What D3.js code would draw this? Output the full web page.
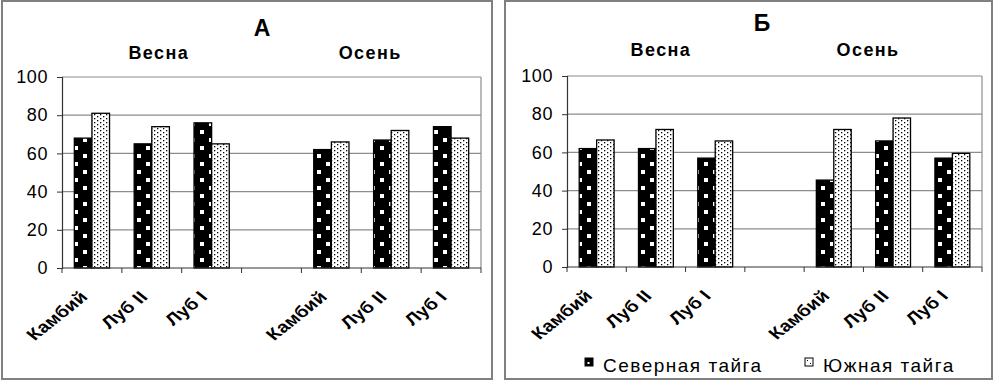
<!DOCTYPE html>
<html>
<head>
<meta charset="utf-8">
<script src="https://cdn.jsdelivr.net/npm/d3@7"></script>
<style>
  body { margin: 0; background: #fff; }
  svg text { font-family: "Liberation Sans", Arial, sans-serif; fill: #000; }
</style>
</head>
<body>
<div id="chart"></div>
<script>
const categories = ["Камбий", "Луб II", "Луб I", "", "Камбий", "Луб II", "Луб I"];
const seasons = ["Весна", "Осень"];
const seriesNames = ["Северная тайга", "Южная тайга"];
const yTicks = [0, 20, 40, 60, 80, 100];

// panel A
const northA = [68, 65, 76, null, 62, 67, 74];
const southA = [81, 74, 65, null, 66, 72, 68];
// panel B
const northB = [62, 62, 57, null, 45.5, 66, 57];
const southB = [66.5, 72, 66, null, 72, 78, 59.5];

const width = 994, height = 381;

const svg = d3.select("#chart").append("svg")
  .attr("width", width)
  .attr("height", height);

// patterns
const defs = svg.append("defs");
const pDark = defs.append("pattern")
  .attr("id", "pat-dark")
  .attr("patternUnits", "userSpaceOnUse")
  .attr("width", 18).attr("height", 16);
pDark.append("rect").attr("width", 18).attr("height", 16).attr("fill", "#000");
pDark.append("rect").attr("x", 2).attr("y", 2).attr("width", 4).attr("height", 4).attr("fill", "#fff");
pDark.append("rect").attr("x", 11).attr("y", 10).attr("width", 4).attr("height", 4).attr("fill", "#fff");

const pLight = defs.append("pattern")
  .attr("id", "pat-light")
  .attr("patternUnits", "userSpaceOnUse")
  .attr("width", 6).attr("height", 4);
pLight.append("rect").attr("width", 6).attr("height", 4).attr("fill", "#fff");
pLight.append("rect").attr("x", 1).attr("y", 0).attr("width", 1.3).attr("height", 1.3).attr("fill", "#000");
pLight.append("rect").attr("x", 4).attr("y", 2).attr("width", 1.3).attr("height", 1.3).attr("fill", "#000");

const fills = ["url(#pat-dark)", "url(#pat-light)"];

function drawPanel(opts, north, south) {
  const g = svg.append("g");

  // frame
  g.append("rect")
    .attr("x", opts.frame[0]).attr("y", opts.frame[1])
    .attr("width", opts.frame[2]).attr("height", opts.frame[3])
    .attr("fill", "#fff")
    .attr("stroke", "#808080")
    .attr("stroke-width", 2);

  const x = d3.scaleBand()
    .domain(d3.range(categories.length))
    .range([opts.left, opts.right])
    .padding(0);

  const xSub = d3.scaleBand()
    .domain([0, 1])
    .range([0, x.bandwidth()])
    .paddingInner(0)
    .paddingOuter(0.7);

  const y = d3.scaleLinear()
    .domain([0, 100])
    .range([opts.bottom, opts.top]);

  // grid
  g.append("g")
    .selectAll("line")
    .data(yTicks.filter(d => d > 0))
    .join("line")
    .attr("x1", opts.left).attr("x2", opts.right)
    .attr("y1", d => y(d)).attr("y2", d => y(d))
    .attr("stroke", "#8c8c8c")
    .attr("stroke-width", 1.2);

  // right border of plot area
  g.append("line")
    .attr("x1", opts.right).attr("x2", opts.right)
    .attr("y1", opts.top).attr("y2", opts.bottom)
    .attr("stroke", "#8c8c8c")
    .attr("stroke-width", 1.2);

  // bars
  const rows = [];
  categories.forEach((c, i) => {
    if (north[i] != null) rows.push({i, s: 0, v: north[i]});
    if (south[i] != null) rows.push({i, s: 1, v: south[i]});
  });

  g.append("g")
    .selectAll("rect")
    .data(rows)
    .join("rect")
    .attr("x", d => x(d.i) + xSub(d.s))
    .attr("y", d => y(d.v))
    .attr("width", xSub.bandwidth())
    .attr("height", d => y(0) - y(d.v))
    .attr("fill", d => fills[d.s])
    .attr("stroke", "#000")
    .attr("stroke-width", 1.3);

  // y axis
  const yAxis = g.append("g")
    .attr("transform", `translate(${opts.left},0)`)
    .call(d3.axisLeft(y).tickValues(yTicks).tickSize(5).tickPadding(9));
  yAxis.select(".domain").attr("stroke", "#333").attr("stroke-width", 1.2);
  yAxis.selectAll(".tick line").attr("stroke", "#333");
  yAxis.selectAll(".tick text")
    .attr("font-size", 18)
    .attr("letter-spacing", 0.6)
    .attr("fill", "#000");

  // x axis line and boundary ticks
  g.append("line")
    .attr("x1", opts.left).attr("x2", opts.right)
    .attr("y1", opts.bottom).attr("y2", opts.bottom)
    .attr("stroke", "#333").attr("stroke-width", 1.2);

  g.append("g")
    .selectAll("line")
    .data(d3.range(categories.length + 1))
    .join("line")
    .attr("x1", d => opts.left + d * x.step())
    .attr("x2", d => opts.left + d * x.step())
    .attr("y1", opts.bottom).attr("y2", opts.bottom + 5)
    .attr("stroke", "#333");

  // rotated category labels (the source picture is a bit stretched sideways)
  g.append("g")
    .selectAll("text")
    .data(categories.map((c, i) => ({c, i})).filter(d => d.c))
    .join("text")
    .attr("transform", d => `translate(${x(d.i) + x.bandwidth() / 2 - 3},${opts.bottom + 30}) scale(1.25,1) rotate(-45)`)
    .attr("text-anchor", "end")
    .attr("font-size", 16)
    .attr("font-weight", "bold")
    .attr("letter-spacing", 0.2)
    .text(d => d.c);

  // panel title
  g.append("text")
    .attr("x", opts.titleX).attr("y", opts.titleY)
    .attr("text-anchor", "middle")
    .attr("font-size", 23)
    .attr("font-weight", "bold")
    .text(opts.title);

  // season labels
  g.append("g")
    .selectAll("text")
    .data(seasons)
    .join("text")
    .attr("x", (d, k) => x(1 + k * 4) + x.bandwidth() / 2 + opts.seasonShift[k])
    .attr("y", opts.seasonY)
    .attr("text-anchor", "middle")
    .attr("font-size", 18)
    .attr("font-weight", "bold")
    .attr("letter-spacing", 1.4)
    .text(d => d);

  return g;
}

drawPanel({
  frame: [2, 1, 490, 378],
  left: 62, right: 481, top: 77, bottom: 268,
  title: "А", titleX: 262, titleY: 36,
  seasonY: 59, seasonShift: [7, -21]
}, northA, southA);

const gB = drawPanel({
  frame: [505, 1, 487, 378],
  left: 567, right: 982, top: 76, bottom: 267,
  title: "Б", titleX: 762, titleY: 31,
  seasonY: 56, seasonShift: [5, -25]
}, northB, southB);

// legend (panel B)
const legend = gB.append("g")
  .selectAll("g")
  .data(seriesNames)
  .join("g")
  .attr("transform", (d, k) => `translate(${k === 0 ? 585 : 805},358)`);

legend.append("rect")
  .attr("width", 8).attr("height", 8)
  .attr("fill", (d, k) => k === 0 ? "#000" : "#fff")
  .attr("stroke", "#000")
  .attr("stroke-width", 1);

legend.filter((d, k) => k === 0).append("rect")
  .attr("x", 2.5).attr("y", 4).attr("width", 2).attr("height", 2).attr("fill", "#fff");
legend.filter((d, k) => k === 1).append("rect")
  .attr("x", 2).attr("y", 2).attr("width", 1).attr("height", 1).attr("fill", "#000");
legend.filter((d, k) => k === 1).append("rect")
  .attr("x", 5).attr("y", 5).attr("width", 1).attr("height", 1).attr("fill", "#000");

legend.append("text")
  .attr("x", 18).attr("y", 14)
  .attr("font-size", 19)
  .attr("letter-spacing", 1.5)
  .text(d => d);
</script>
</body>
</html>
